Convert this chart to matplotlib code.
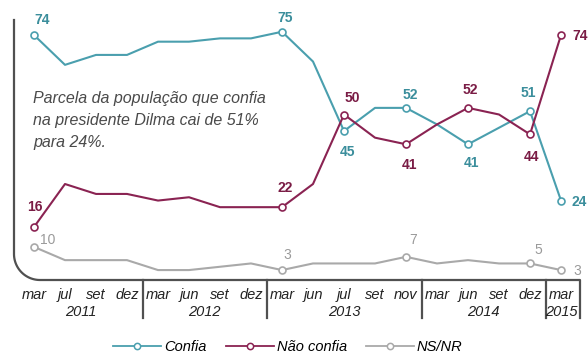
import numpy as np
import matplotlib
matplotlib.use("Agg")
import matplotlib.pyplot as plt
from matplotlib.lines import Line2D
import matplotlib.transforms as mtransforms

# ---- data -------------------------------------------------------------
months = ["mar", "jul", "set", "dez",
          "mar", "jun", "set", "dez",
          "mar", "jun", "jul", "set", "nov",
          "mar", "jun", "set", "dez",
          "mar"]
years = ["2011", "2012", "2013", "2014", "2015"]
year_counts = [4, 4, 5, 4, 1]

confia = [74, 65, 68, 68, 72, 72, 73, 73, 75, 66, 45, 52, 52, 47, 41, 46, 51, 24]
nao_confia = [16, 29, 26, 26, 24, 25, 22, 22, 22, 29, 50, 43, 41, 47, 52, 50, 44, 74]
ns_nr = [10, 6, 6, 6, 3, 3, 4, 5, 3, 5, 5, 5, 7, 5, 6, 5, 5, 3]

series_names = ["Confia", "Não confia", "NS/NR"]

# ---- style ------------------------------------------------------------
plt.rcParams["font.family"] = ["Liberation Sans", "DejaVu Sans"]

TEAL = "#4a9fae"
TEAL_TXT = "#3b8e9c"
MAROON = "#8a2352"
MAROON_TXT = "#7a1c45"
GRAY = "#a9a9a9"
GRAY_TXT = "#9a9a9a"
FRAME = "#505050"

W, H = 588, 354
fig = plt.figure(figsize=(W / 100, H / 100), dpi=100)


def fx(px):
    return px / W


def fy(py):
    return 1 - py / H


# plot area: x 14..580 px, y 20..280 px
ax = fig.add_axes([fx(14), fy(280), fx(580) - fx(14), fy(20) - fy(280)])
step = 31.0
x0_px = 34.0
ax.set_xlim((14 - x0_px) / step, (580 - x0_px) / step)
ax.set_ylim(0, 260 / 3.31)
for s in ax.spines.values():
    s.set_visible(False)
ax.set_yticks([])

x = np.arange(len(months))
ax.set_xticks(x)
ax.set_xticklabels(months, fontsize=10.5, style="italic", color="#222222")
ax.tick_params(axis="x", length=0, pad=6)

lw = 1.5
mk = dict(marker="o", markersize=5, markerfacecolor="white", markeredgewidth=1.2)
ax.plot(x, confia, color=TEAL, lw=lw, clip_on=False, zorder=3)
ax.plot(x, nao_confia, color=MAROON, lw=lw, clip_on=False, zorder=3)
ax.plot(x, ns_nr, color=GRAY, lw=lw, clip_on=False, zorder=2)

# highlighted points with value labels: (index, dx px, dy px, ha)
confia_marks = [(0, 8, 15, "center"), (8, 3, 14, "center"), (10, 3, -21, "center"),
                (12, 4, 13, "center"), (14, 4, -19, "center"), (16, -2, 18, "center"),
                (17, 10, -1, "left")]
nao_marks = [(0, 1, 20, "center"), (8, 3, 19, "center"), (10, 8, 17, "center"),
             (12, 4, -21, "center"), (14, 2, 18, "center"), (16, 2, -23, "center"),
             (17, 11, -1, "left")]
ns_marks = [(0, 14, 7, "center"), (8, 5, 15, "center"), (12, 7, 17, "center"),
            (16, 8, 13, "center"), (17, 12, -1, "left")]

for vals, marks, col, tcol in [(confia, confia_marks, TEAL, TEAL_TXT),
                               (nao_confia, nao_marks, MAROON, MAROON_TXT),
                               (ns_nr, ns_marks, GRAY, GRAY_TXT)]:
    idx = [m[0] for m in marks]
    ax.plot(idx, [vals[i] for i in idx], linestyle="none", color=col,
            markeredgecolor=col, clip_on=False, zorder=4, **mk)
    for i, dx, dy, ha in marks:
        ax.annotate(str(vals[i]), (i, vals[i]), xytext=(dx * 0.72, dy * 0.72),
                    textcoords="offset points", ha=ha, va="center",
                    fontsize=10,
                    fontweight="bold" if col != GRAY else "normal",
                    color=tcol, zorder=5)

# frame with rounded lower-left corner
r = 26
t = np.linspace(0, np.pi / 2, 30)
cx, cy = 14 + r, 280 - r
arc_x = cx - r * np.cos(t)
arc_y = cy + r * np.sin(t)
px = np.concatenate([[14], arc_x, [580, 580]])
py = np.concatenate([[20], arc_y, [280, 318]])
fig.add_artist(Line2D(fx(px), fy(py), color=FRAME, lw=1.6,
                      transform=fig.transFigure, solid_joinstyle="round"))

# year separators below the axis
trans = mtransforms.blended_transform_factory(ax.transData, fig.transFigure)
bounds = np.cumsum(year_counts)[:-1] - 0.5
for b in bounds:
    ax.add_line(Line2D([b, b], [fy(280), fy(318)], color=FRAME, lw=1.6,
                       transform=trans, clip_on=False))

# year labels centered under each group
starts = np.concatenate([[0], np.cumsum(year_counts)[:-1]])
for yr, s0, n in zip(years, starts, year_counts):
    ax.text(s0 + (n - 1) / 2, fy(312), yr, transform=trans, ha="center",
            va="center", fontsize=10.5, style="italic", color="#222222")

# note
ax.text(fx(33), fy(91), "Parcela da população que confia\nna presidente Dilma cai de 51%\npara 24%.",
        transform=fig.transFigure, ha="left", va="top", fontsize=11.5,
        style="italic", color="#4a4a4a", linespacing=1.6)

# legend
handles = [Line2D([], [], color=c, lw=1.3, marker="o", markersize=4.5,
                  markerfacecolor="white", markeredgecolor=c, markeredgewidth=1.1)
           for c in (TEAL, MAROON, GRAY)]
fig.legend(handles, series_names, loc="center", bbox_to_anchor=(fx(288), fy(347)),
           ncol=3, frameon=False, handlelength=3.3, handletextpad=0.2,
           columnspacing=1.3, prop=dict(style="italic", size=10.5))

fig.savefig("out.png", dpi=100)
